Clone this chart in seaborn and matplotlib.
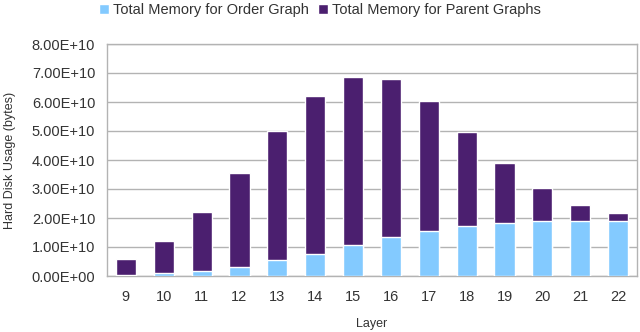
import numpy as np
import pandas as pd
import seaborn as sns
import matplotlib.pyplot as plt
from matplotlib.ticker import FuncFormatter

# valores (bytes)
camadas = [9, 10, 11, 12, 13, 14, 15, 16, 17, 18, 19, 20, 21, 22]
mem_ordem = [0.02e10, 0.09e10, 0.16e10, 0.32e10, 0.54e10, 0.77e10, 1.08e10,
             1.36e10, 1.56e10, 1.73e10, 1.84e10, 1.88e10, 1.91e10, 1.91e10]
mem_pais = [0.58e10, 1.13e10, 2.06e10, 3.24e10, 4.47e10, 5.45e10, 5.79e10,
            5.44e10, 4.48e10, 3.24e10, 2.06e10, 1.16e10, 0.54e10, 0.27e10]

dados = pd.DataFrame({'Layer': [str(c) for c in camadas],
                      'Ordem': mem_ordem, 'Pais': mem_pais})
dados['Total'] = dados['Ordem'] + dados['Pais']

cor_ordem = '#83CAFF'
cor_pais = '#4B1F6F'

sns.set_style('white')
plt.rcParams['font.family'] = ['Liberation Sans', 'DejaVu Sans']

fig = plt.figure(figsize=(6.4, 3.32), dpi=100)
ax = fig.add_axes([107 / 640, 56 / 332, 530 / 640, 232 / 332])

# empilhado: total (pais por cima) e depois ordem por baixo
sns.barplot(data=dados, x='Layer', y='Total', color=cor_pais, width=0.53,
            saturation=1, ax=ax, label='Total Memory for Parent Graphs', zorder=3)
sns.barplot(data=dados, x='Layer', y='Ordem', color=cor_ordem, width=0.53,
            saturation=1, ax=ax, label='Total Memory for Order Graph', zorder=3)
h, l = ax.get_legend_handles_labels()
ax.get_legend().remove()

ax.set_ylim(0, 8e10)
ax.set_xlim(-0.5, len(camadas) - 0.5)
ax.set_yticks(np.arange(0, 8.01e10, 1e10))
ax.yaxis.set_major_formatter(FuncFormatter(lambda v, p: '{:.2E}'.format(v)))
ax.yaxis.grid(True, color='#b3b3b3', linewidth=1, zorder=0)

ax.set_xticks(np.arange(-0.5, len(camadas), 1), minor=True)
ax.tick_params(axis='x', which='major', length=0, pad=10, labelsize=10.5, colors='#333333')
ax.tick_params(axis='x', which='minor', length=6, color='#b3b3b3', width=1)
ax.tick_params(axis='y', length=5, color='#b3b3b3', labelsize=10.5, colors='#333333')
for s in ax.spines.values():
    s.set_color('#b3b3b3')
    s.set_linewidth(1)

ax.set_xlabel('Layer', fontsize=9, color='#333333', labelpad=10)
ax.set_ylabel('Hard Disk Usage (bytes)', fontsize=9, color='#333333')
ax.yaxis.set_label_coords(-0.172, 0.5)

fig.legend(h[::-1], l[::-1], loc='upper center', bbox_to_anchor=(0.5, 1.03), ncol=2,
           frameon=False, fontsize=10.5, handlelength=0.7, handleheight=0.7,
           handletextpad=0.3, columnspacing=0.6, labelcolor='#333333')

fig.savefig('out.png', dpi=100)
